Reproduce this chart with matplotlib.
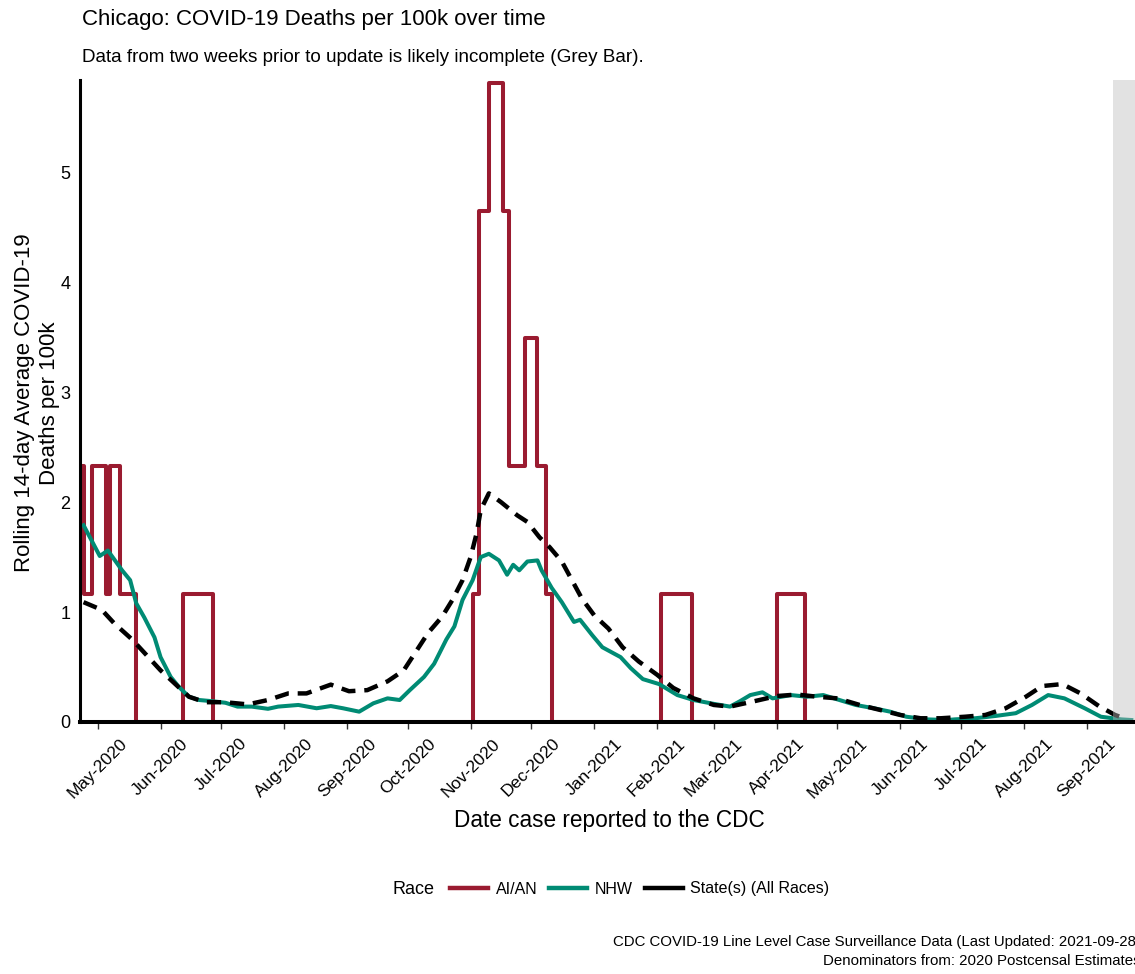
import matplotlib
matplotlib.use("Agg")
import matplotlib.pyplot as plt
import matplotlib.dates as mdates
from matplotlib.lines import Line2D
import pandas as pd

plt.rcParams['font.family'] = ['Liberation Sans', 'DejaVu Sans']

# ---------------- data ----------------
title = "Chicago: COVID-19 Deaths per 100k over time"
subtitle = "Data from two weeks prior to update is likely incomplete (Grey Bar)."
ylabel = "Rolling 14-day Average COVID-19\nDeaths per 100k"
xlabel = "Date case reported to the CDC"
caption1 = "CDC COVID-19 Line Level Case Surveillance Data (Last Updated: 2021-09-28)"
caption2 = "Denominators from: 2020 Postcensal Estimates"
legend_title = "Race"
series_labels = ["AI/AN", "NHW", "State(s) (All Races)"]
series_colors = ["#9A1B30", "#008B74", "#000000"]

# AI/AN: change points of the (step-like) rolling average
aian_dates = ["2020-04-23", "2020-04-24", "2020-04-28", "2020-05-05", "2020-05-07",
              "2020-05-12", "2020-05-20", "2020-06-12", "2020-06-27", "2020-11-02",
              "2020-11-05", "2020-11-10", "2020-11-17", "2020-11-20", "2020-11-28",
              "2020-12-04", "2020-12-08", "2020-12-11", "2021-02-03", "2021-02-18",
              "2021-04-01", "2021-04-15", "2021-09-28"]
aian_values = [2.33, 1.16, 2.33, 1.16, 2.33,
               1.16, 0.0, 1.16, 0.0, 1.16,
               4.65, 5.81, 4.65, 2.33, 3.49,
               2.33, 1.16, 0.0, 1.16, 0.0,
               1.16, 0.0, 0.0]

nhw_dates = ["2020-04-24", "2020-04-28", "2020-05-02", "2020-05-06", "2020-05-13",
             "2020-05-17", "2020-05-20", "2020-05-24", "2020-05-29", "2020-06-01",
             "2020-06-06", "2020-06-10", "2020-06-15", "2020-06-20", "2020-06-26",
             "2020-07-03", "2020-07-09", "2020-07-16", "2020-07-24", "2020-07-29",
             "2020-08-08", "2020-08-17", "2020-08-24", "2020-08-30", "2020-09-07",
             "2020-09-14", "2020-09-21", "2020-09-27", "2020-10-02", "2020-10-09",
             "2020-10-14", "2020-10-20", "2020-10-24", "2020-10-28", "2020-11-02",
             "2020-11-06", "2020-11-10", "2020-11-15", "2020-11-19", "2020-11-22",
             "2020-11-25", "2020-11-29", "2020-12-04", "2020-12-06", "2020-12-11",
             "2020-12-16", "2020-12-22", "2020-12-25", "2020-12-31", "2021-01-05",
             "2021-01-14", "2021-01-19", "2021-01-25", "2021-02-02", "2021-02-11",
             "2021-02-19", "2021-03-01", "2021-03-09", "2021-03-14", "2021-03-19",
             "2021-03-25", "2021-03-30", "2021-04-08", "2021-04-16", "2021-04-24",
             "2021-05-02", "2021-05-10", "2021-05-19", "2021-05-27", "2021-06-04",
             "2021-06-14", "2021-06-24", "2021-06-28", "2021-07-08", "2021-07-18",
             "2021-07-28", "2021-08-05", "2021-08-13", "2021-08-21", "2021-08-31",
             "2021-09-08", "2021-09-18", "2021-09-23"]
nhw_values = [1.79, 1.65, 1.51, 1.56, 1.38,
              1.29, 1.08, 0.95, 0.77, 0.59,
              0.41, 0.32, 0.23, 0.20, 0.19,
              0.175, 0.14, 0.14, 0.12, 0.14,
              0.155, 0.125, 0.145, 0.125, 0.094,
              0.17, 0.215, 0.20, 0.29, 0.41,
              0.53, 0.75, 0.87, 1.11, 1.29,
              1.50, 1.53, 1.47, 1.34, 1.43,
              1.38, 1.46, 1.47, 1.38, 1.22,
              1.09, 0.91, 0.93, 0.79, 0.68,
              0.59, 0.49, 0.39, 0.345, 0.245,
              0.20, 0.165, 0.14, 0.19, 0.245,
              0.27, 0.215, 0.245, 0.23, 0.245,
              0.20, 0.155, 0.125, 0.094, 0.048,
              0.024, 0.018, 0.024, 0.034, 0.055,
              0.08, 0.155, 0.245, 0.215, 0.125,
              0.048, 0.024, 0.018]

state_dates = ["2020-04-24", "2020-05-03", "2020-05-09", "2020-05-18", "2020-05-26",
               "2020-06-01", "2020-06-08", "2020-06-15", "2020-06-23", "2020-07-03",
               "2020-07-14", "2020-07-24", "2020-08-03", "2020-08-12", "2020-08-24",
               "2020-09-02", "2020-09-11", "2020-09-21", "2020-09-29", "2020-10-05",
               "2020-10-11", "2020-10-18", "2020-10-23", "2020-10-28", "2020-11-01",
               "2020-11-04", "2020-11-06", "2020-11-10", "2020-11-16", "2020-11-24",
               "2020-11-29", "2020-12-05", "2020-12-10", "2020-12-16", "2020-12-21",
               "2020-12-26", "2021-01-01", "2021-01-08", "2021-01-15", "2021-01-23",
               "2021-02-01", "2021-02-09", "2021-02-19", "2021-03-01", "2021-03-09",
               "2021-03-20", "2021-04-01", "2021-04-11", "2021-04-21", "2021-05-01",
               "2021-05-12", "2021-05-22", "2021-06-01", "2021-06-11", "2021-06-21",
               "2021-07-03", "2021-07-13", "2021-07-23", "2021-08-02", "2021-08-10",
               "2021-08-20", "2021-08-29", "2021-09-07", "2021-09-15", "2021-09-21"]
state_values = [1.09, 1.02, 0.90, 0.75, 0.59,
                0.47, 0.35, 0.23, 0.18, 0.18,
                0.16, 0.20, 0.26, 0.26, 0.34,
                0.28, 0.29, 0.37, 0.47, 0.64,
                0.81, 0.96, 1.11, 1.29, 1.50,
                1.72, 1.93, 2.08, 2.00, 1.88,
                1.82, 1.68, 1.59, 1.46, 1.29,
                1.12, 0.97, 0.85, 0.68, 0.55,
                0.43, 0.31, 0.215, 0.155, 0.14,
                0.185, 0.236, 0.25, 0.23, 0.215,
                0.155, 0.11, 0.064, 0.034, 0.034,
                0.048, 0.064, 0.125, 0.23, 0.327,
                0.345, 0.26, 0.145, 0.064, 0.024]

grey_start = "2021-09-14"
grey_end = "2021-09-30"
x_start = "2020-04-22 06:00"
x_end = "2021-09-24 20:00"
y_max = 5.84
y_ticks = [0, 1, 2, 3, 4, 5]

# ---------------- figure ----------------
W, H = 1135, 974
fig = plt.figure(figsize=(W / 100, H / 100), dpi=100)
ax = fig.add_axes([80 / W, 1 - 722 / H, 1 - 80 / W, (722 - 80) / H])

ax.plot(pd.to_datetime(aian_dates), aian_values, color=series_colors[0], lw=2.9,
        drawstyle="steps-post", solid_joinstyle="round", zorder=2)
ax.plot(pd.to_datetime(nhw_dates), nhw_values, color=series_colors[1], lw=2.9,
        solid_joinstyle="round", zorder=2.1)
ax.plot(pd.to_datetime(state_dates), state_values, color=series_colors[2], lw=3.2,
        linestyle=(0, (3.2, 2.0)), zorder=2.2)

ax.axvspan(pd.Timestamp(grey_start), pd.Timestamp(grey_end), color="#BDBDBD",
           alpha=0.44, lw=0, zorder=3)

ax.set_xlim(pd.Timestamp(x_start), pd.Timestamp(x_end))
ax.set_ylim(0, y_max)
ax.set_yticks(y_ticks)

ax.xaxis.set_major_locator(mdates.MonthLocator())
ax.xaxis.set_major_formatter(mdates.DateFormatter("%b-%Y"))
for lab in ax.get_xticklabels():
    lab.set_rotation(45)
    lab.set_ha("center")
    lab.set_va("top")

ax.tick_params(axis="x", labelsize=12.5, length=5, width=1, color="#333333", pad=5,
               labelcolor="black")
ax.tick_params(axis="y", labelsize=13, length=0, pad=7, labelcolor="black")

for s in ["top", "right"]:
    ax.spines[s].set_visible(False)
ax.spines["left"].set_linewidth(2.2)
ax.spines["bottom"].set_linewidth(2.9)
ax.spines["left"].set_zorder(4)
ax.spines["bottom"].set_zorder(4)

# texts
fig.text(82 / W, 1 - 19 / H, title, fontsize=16, va="center", ha="left")
fig.text(82 / W, 1 - 57 / H, subtitle, fontsize=13.6, va="center", ha="left")
fig.text(37 / W, 1 - 403 / H, ylabel, rotation=90, fontsize=16, ha="center",
         va="center", multialignment="center", linespacing=1.2)
fig.text(609 / W, 1 - 820 / H, xlabel, fontsize=16.3, ha="center", va="center")
fig.text(1141 / W, 1 - 942 / H, caption1, fontsize=10.8, ha="right", va="center")
fig.text(1141 / W, 1 - 961 / H, caption2, fontsize=10.8, ha="right", va="center")

# legend
fig.text(393 / W, 1 - 889 / H, legend_title, fontsize=13, ha="left", va="center")
handles = [Line2D([0], [0], color=c, lw=3.2) for c in series_colors]
fig.legend(handles, series_labels, loc="center left",
           bbox_to_anchor=(450 / W, 1 - 889 / H), ncol=3, frameon=False,
           fontsize=11.5, handlelength=2.4, handletextpad=0.45, columnspacing=0.75,
           borderpad=0, borderaxespad=0)

fig.savefig("out.png", dpi=100)
